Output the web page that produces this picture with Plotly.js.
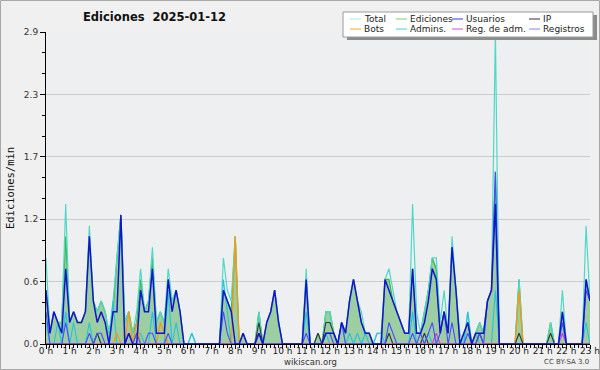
<!DOCTYPE html>
<html><head><meta charset="utf-8">
<script src="https://cdn.plot.ly/plotly-3.0.1.min.js"></script>
<style>html,body{margin:0;padding:0;background:#f0f0f0}#c{width:600px;height:370px}</style>
</head><body><div id="c"></div>
<script>
// 10-minute bins, 00:00 .. 23:00
var hourLabels = ["0 h","1 h","2 h","3 h","4 h","5 h","6 h","7 h","8 h","9 h","10 h","11 h","12 h","13 h","14 h","15 h","16 h","17 h","18 h","19 h","20 h","21 h","22 h","23 h"];
var yTickVals = [0, 0.58, 1.16, 1.74, 2.32, 2.9];
var yTickText = ["0.0","0.6","1.2","1.7","2.3","2.9"];

var total = [
0.8,0.1,0.3,0.2,0.2,1.3, 0.2,0.3,0.2,0.2,0.3,1.1,
0.4,0.3,0.4,0.3,0.1,0.4, 0.8,1.2,0.2,0.3,0.1,0.3,
0.7,0.3,0.4,0.9,0.2,0.3, 0.2,0.7,0.4,0.5,0.3,0,
0,0.1,0,0,0,0, 0,0,0,0.8,0.5,0.4,
1.0,0,0.1,0,0,0, 0.3,0,0.2,0.3,0.5,0.2,
0,0,0,0,0,0, 0.7,0,0,0.1,0,0.3,
0.3,0.1,0,0.2,0.1,0.4, 0.6,0.4,0.3,0.1,0.1,0,
0.1,0.1,0.6,0.7,0.5,0.3, 0.2,0.1,0.1,1.3,0.3,0.1,
0.3,0.5,0.8,0.8,0.2,0.5, 0.1,1.0,0.5,0.1,0,0.3,
0,0.1,0.2,0.1,0.4,0.5, 2.9,0,0,0,0,0,
0.6,0,0,0,0,0, 0,0,0.2,0,0,0.5,
0,0,0,0,0,1.1,0.4];
var ediciones = [
0.5,0.1,0.3,0.2,0.2,1.0, 0.2,0.3,0.2,0.2,0.3,1.0,
0.4,0.3,0.4,0.3,0.1,0.3, 0.8,1.2,0.2,0.3,0.1,0.2,
0.6,0.3,0.4,0.8,0.2,0.3, 0.2,0.6,0.4,0.5,0.3,0,
0,0,0,0,0,0, 0,0,0,0.5,0.4,0.3,
1.0,0,0.1,0,0,0, 0.3,0,0.2,0.3,0.5,0.2,
0,0,0,0,0,0, 0.6,0,0,0.1,0,0.3,
0.3,0.1,0,0.2,0.1,0.4, 0.6,0.4,0.2,0.1,0.1,0,
0,0,0.6,0.6,0.4,0.3, 0.2,0.1,0.1,0.7,0.1,0.1,
0.3,0.5,0.8,0.7,0.1,0.3, 0.1,0.9,0.5,0,0.1,0.2,
0,0.1,0.2,0.1,0.4,0.5, 1.6,0,0,0,0,0,
0.6,0,0,0,0,0, 0,0,0.2,0,0,0.3,
0,0,0,0,0,0.6,0.4];
var usuarios = [
0.5,0.1,0.3,0.2,0.1,0.7, 0.2,0.3,0.2,0.2,0.3,1.0,
0.4,0.2,0.3,0.2,0,0.3, 0.3,1.2,0,0.1,0,0,
0.5,0.3,0.3,0.7,0.1,0.1, 0.1,0.6,0.3,0.5,0.3,0,
0,0,0,0,0,0, 0,0,0,0.5,0.4,0.3,
0,0,0.1,0,0,0, 0.1,0,0.2,0.3,0.5,0.2,
0,0,0,0,0,0, 0.6,0,0,0,0,0.1,
0.1,0.1,0,0.2,0.1,0.4, 0.6,0.4,0.2,0.1,0.1,0,
0,0,0.6,0.5,0.4,0.3, 0.2,0.1,0.1,0.7,0.1,0.1,
0.2,0.4,0.7,0.6,0.1,0.3, 0.1,0.9,0.5,0,0.1,0.2,
0,0.1,0.1,0.1,0.4,0.5, 1.3,0,0,0,0,0,
0,0,0,0,0,0, 0,0,0,0,0,0.3,
0,0,0,0,0,0.6,0.4];
var registros = [
0.3,0,0,0,0,0.2, 0,0,0,0,0,0.1,
0,0.1,0.1,0,0,0, 0,0,0,0.1,0,0.1,
0,0,0.1,0.1,0,0, 0,0.1,0,0,0,0,
0,0,0,0,0,0, 0,0,0,0.3,0.1,0,
0,0,0,0,0,0, 0.1,0,0,0,0,0,
0,0,0,0,0,0, 0.1,0,0,0,0,0.1,
0.1,0,0,0.2,0,0, 0,0,0,0,0,0,
0,0,0,0.2,0.1,0, 0,0,0,0.1,0,0.1,
0,0.1,0.2,0,0.1,0.3, 0,0.2,0,0,0,0.1,
0,0,0.1,0,0.4,0.5, 1.6,0,0,0,0,0,
0,0,0,0,0,0, 0,0,0,0,0,0.2,
0,0,0,0,0,0.5,0.4];
var admins = [
0.2,0,0,0.2,0,0.3, 0,0.2,0,0,0,0.2,
0,0.1,0,0,0,0.4, 0,0,0,0,0,0.1,
0.1,0,0,0.3,0,0, 0,0.5,0,0.2,0,0,
0,0.1,0,0,0,0, 0,0,0,0.6,0.3,0,
0,0,0,0,0,0, 0,0,0,0,0,0,
0,0,0,0,0,0, 0.3,0,0,0,0,0.1,
0,0,0,0.2,0,0.1, 0,0.1,0,0.1,0,0,
0.1,0.1,0,0,0,0, 0,0,0,0.3,0,0,
0,0.1,0,0,0,0, 0,0,0,0,0,0.3,
0,0.1,0,0,0,0, 0.5,0,0,0,0,0,
0,0,0,0,0,0, 0,0,0,0,0,0.2,
0,0,0,0,0,0.2,0];
var ip = [
0,0,0,0,0,0, 0,0,0,0,0,0,
0,0.1,0,0,0,0, 0,0,0,0,0,0,
0,0,0,0,0,0, 0,0,0,0,0,0,
0,0,0,0,0,0, 0,0,0,0,0,0,
0,0,0,0,0,0, 0.2,0,0,0,0,0,
0,0,0,0,0,0, 0,0,0,0.1,0,0.2,
0.2,0.1,0,0,0,0, 0,0,0,0,0,0,
0,0,0,0.1,0,0, 0,0,0,0,0,0,
0.1,0,0,0,0,0, 0,0,0,0,0,0,
0,0,0.1,0,0,0, 0,0,0,0,0,0,
0.1,0,0,0,0,0, 0,0,0.1,0,0,0,
0,0,0,0,0,0,0];
var bots = [
0,0,0,0,0,0, 0,0,0,0,0,0,
0,0,0,0,0,0, 0.1,0,0,0.3,0,0.2,
0,0,0,0,0,0.2, 0.1,0,0,0,0,0,
0,0,0,0,0,0, 0,0,0,0,0,0,
1.0,0,0,0,0,0, 0,0,0,0,0,0,
0,0,0,0,0,0, 0,0,0,0,0,0,
0,0,0,0,0,0, 0,0,0,0,0,0,
0,0,0,0,0,0, 0,0,0,0,0,0,
0,0,0,0,0,0, 0,0,0,0,0,0,
0,0,0,0,0,0, 0,0,0,0,0,0,
0.5,0,0,0,0,0, 0,0,0,0,0,0,
0,0,0,0,0,0,0];
var regAdm = [
0,0,0,0,0,0, 0,0,0,0,0,0,
0,0,0,0,0,0, 0,0,0,0,0,0,
0,0,0,0,0,0, 0,0,0,0,0,0,
0,0,0,0,0,0, 0,0,0,0,0,0,
0,0,0,0,0,0, 0,0,0,0,0,0,
0,0,0,0,0,0, 0,0,0,0,0,0,
0,0,0,0,0,0, 0,0,0,0,0,0,
0,0,0,0,0,0, 0,0,0,0,0,0,
0,0,0,0.1,0,0, 0,0,0,0,0,0,
0,0,0,0,0,0, 0,0,0,0,0,0,
0,0,0,0,0,0, 0,0,0,0,0,0.1,
0,0,0,0,0,0,0];

var hours = total.map(function(_, i){ return i / 6; });

var L = 46, R = 590, T = 32, B = 344;
function px(x){ return (x - L) / (R - L); }
function py(y){ return (B - y) / (B - T); }

function line(y, color, width, name){
  return {x: hours, y: y, type: 'scatter', mode: 'lines', name: name,
          line: {color: color, width: width, shape: 'linear'}, showlegend: false, hoverinfo: 'skip'};
}
var trEd = line(ediciones, '#3fb84a', 1.3, 'Ediciones');
trEd.fill = 'tozeroy'; trEd.fillcolor = 'rgba(70,170,75,0.48)';
var data = [
  trEd,
  line(total, '#4fd8c8', 1.2, 'Total'),
  line(admins, '#22c4dc', 1.1, 'Admins.'),
  line(bots, '#f39a16', 1.3, 'Bots'),
  line(ip, '#333333', 1.1, 'IP'),
  line(regAdm, '#dd33dd', 1.1, 'Reg. de adm.'),
  line(registros, '#4a4aff', 1.1, 'Registros'),
  line(usuarios, '#1414cc', 1.5, 'Usuarios')
];

var F = 'DejaVu Sans, sans-serif';
var legendItems = [
  {t:'Total', c:'#a6ebe2', col:0, row:0}, {t:'Ediciones', c:'#77d277', col:1, row:0},
  {t:'Usuarios', c:'#3636ee', col:2, row:0}, {t:'IP', c:'#333333', col:3, row:0},
  {t:'Bots', c:'#ffa52a', col:0, row:1}, {t:'Admins.', c:'#3fd2e2', col:1, row:1},
  {t:'Reg. de adm.', c:'#e044e0', col:2, row:1}, {t:'Registros', c:'#8383ff', col:3, row:1}
];
var colLine = [350, 396, 452, 529];
var rowY = [19, 29];

var shapes = [
  {type:'rect', xref:'paper', yref:'paper', x0:px(0.5), x1:px(599.5), y0:py(369.5), y1:py(0.5),
   line:{color:'#a8a8a8', width:1}, fillcolor:'rgba(0,0,0,0)', layer:'below'},
  {type:'rect', xref:'paper', yref:'paper', x0:px(347), x1:px(597), y0:py(40), y1:py(15),
   line:{width:0}, fillcolor:'#8c8c8c'},
  {type:'rect', xref:'paper', yref:'paper', x0:px(343), x1:px(593), y0:py(37), y1:py(12),
   line:{color:'#9a9a9a', width:1}, fillcolor:'#ffffff'}
];
var annotations = [
  {text:'<b>Ediciones  2025-01-12</b>', xref:'paper', yref:'paper', x:px(154), y:py(17),
   xanchor:'center', yanchor:'middle', showarrow:false, font:{family:F, size:11.5, color:'#111'}},
  {text:'wikiscan.org', xref:'paper', yref:'paper', x:px(310), y:py(362),
   xanchor:'center', yanchor:'middle', showarrow:false, font:{family:F, size:8.5, color:'#333'}},
  {text:'CC BY-SA 3.0', xref:'paper', yref:'paper', x:px(591), y:py(362),
   xanchor:'right', yanchor:'middle', showarrow:false, font:{family:F, size:7, color:'#444'}}
];
legendItems.forEach(function(it){
  var x0 = colLine[it.col], y = rowY[it.row];
  shapes.push({type:'line', xref:'paper', yref:'paper', x0:px(x0), x1:px(x0+11), y0:py(y), y1:py(y),
               line:{color:it.c, width:1}});
  annotations.push({text:it.t, xref:'paper', yref:'paper', x:px(x0+12), y:py(y),
                    xanchor:'left', yanchor:'middle', showarrow:false,
                    font:{family:F, size:9, color:'#222'}});
});

var layout = {
  width: 600, height: 370,
  margin: {l: L, r: 600 - R, t: T, b: 370 - B, pad: 0},
  paper_bgcolor: '#f0f0f0', plot_bgcolor: '#eeeff1',
  showlegend: false,
  xaxis: {range: [0, 23], tickvals: hourLabels.map(function(_, i){ return i; }), ticktext: hourLabels,
          showgrid: false, zeroline: false, showline: true, linecolor: '#000', linewidth: 1,
          ticks: 'outside', ticklen: 4, tickcolor: '#000', tickwidth: 1,
          ticklabelstandoff: -6, ticklabeloverflow: 'allow',
          tickfont: {family: F, size: 9, color: '#222'},
          minor: {dtick: 1/6, tick0: 0, ticks: 'outside', ticklen: 3, tickcolor: '#000', showgrid: false}},
  yaxis: {range: [0, 2.9], tickvals: yTickVals, ticktext: yTickText,
          showgrid: true, gridcolor: '#cccccc', gridwidth: 1, zeroline: false,
          showline: true, linecolor: '#000', linewidth: 1,
          ticks: 'outside', ticklen: 5, tickcolor: '#000',
          tickfont: {family: F, size: 9, color: '#333'},
          minor: {dtick: 0.58/3, tick0: 0, ticks: 'outside', ticklen: 3, tickcolor: '#000', showgrid: false},
          title: {text: 'Ediciones/min', font: {family: 'DejaVu Sans Mono, monospace', size: 10.5, color: '#111'}, standoff: 7}},
  shapes: shapes,
  annotations: annotations,
  hovermode: false
};
Plotly.newPlot('c', data, layout, {displayModeBar: false, staticPlot: true});
</script>
</body></html>
